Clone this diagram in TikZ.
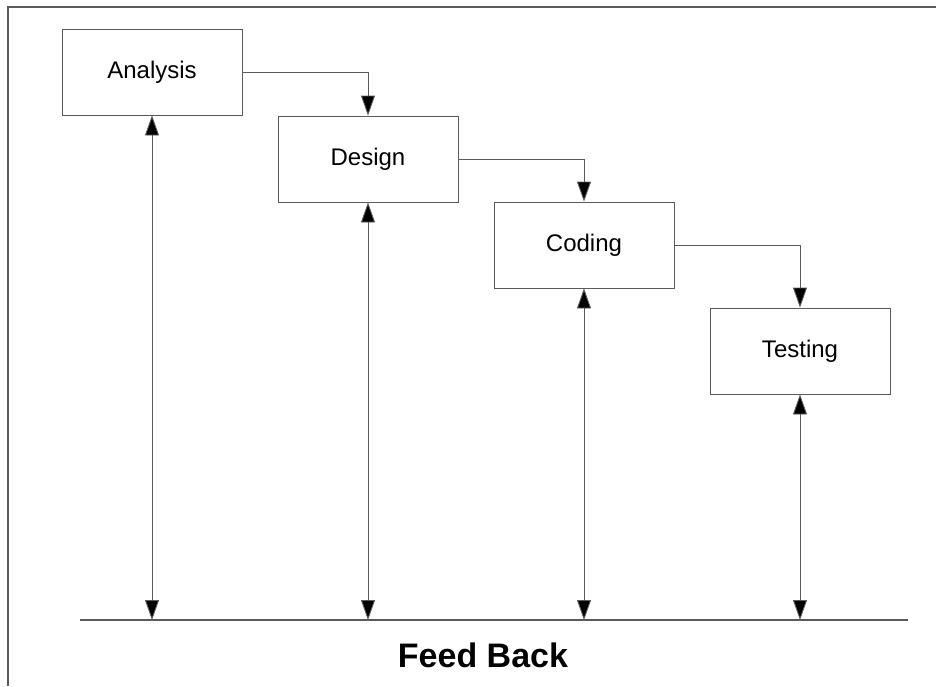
\documentclass[tikz,border=0pt]{standalone}
\usepackage{fontspec}
\setmainfont{Liberation Sans}
\usetikzlibrary{arrows.meta}
\definecolor{linegray}{HTML}{5A5A5A}
\tikzset{
  phase/.style={draw=linegray,line width=0.9pt,minimum width=180pt,minimum height=86pt,inner sep=0pt,font=\fontsize{24}{28}\selectfont},
  flow/.style={draw=linegray,line width=0.9pt,-{Triangle[length=20pt,width=14pt,fill=black]}},
  feedback/.style={draw=linegray,line width=0.9pt,{Triangle[length=20pt,width=14pt,fill=black]}-{Triangle[length=20pt,width=14pt,fill=black]}}
}
\begin{document}
\begin{tikzpicture}[x=1pt,y=-1pt]
 \useasboundingbox (0,0) rectangle (936,686);
 \draw[linegray,line width=1.6pt] (8,686) -- (8,7) -- (936,7);
 \node[phase] (ana) at (152,72) {Analysis};
 \node[phase] (des) at (368,159) {Design};
 \node[phase] (cod) at (584,245) {Coding};
 \node[phase] (tes) at (800,351) {Testing};
 \coordinate (fbL) at (80,620); \coordinate (fbR) at (908,620);
 \draw[linegray,line width=1.2pt] (fbL) -- (fbR);
 \draw[flow] (ana.east) -| (des.north);
 \draw[flow] (des.east) -| (cod.north);
 \draw[flow] (cod.east) -| (tes.north);
 \foreach \n in {ana,des,cod,tes}{ \draw[feedback] (\n.south) -- (\n.south |- fbL); }
 \node[font=\bfseries\fontsize{34}{40}\selectfont] (fbtext) at (483,655) {Feed Back};
\end{tikzpicture}
\end{document}
